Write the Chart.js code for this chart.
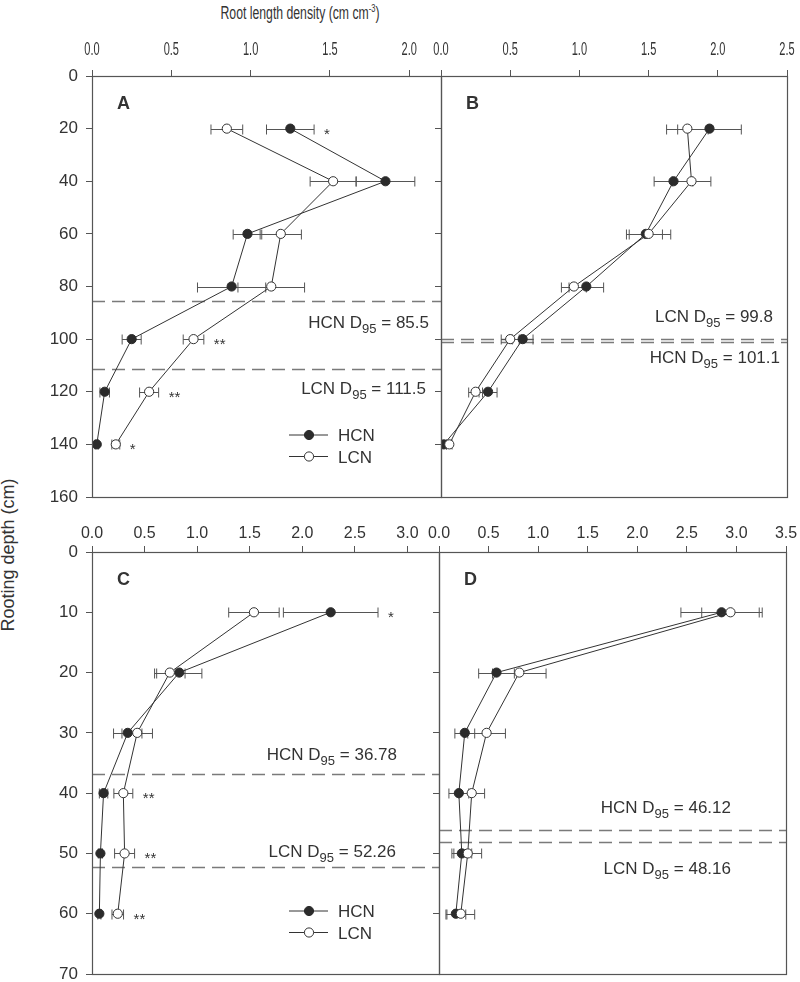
<!DOCTYPE html>
<html>
<head>
<meta charset="utf-8">
<script src="https://cdn.jsdelivr.net/npm/chart.js@4.4.1/dist/chart.umd.min.js"></script>
<style>
    body { margin: 0; background: #fff; }
    #page { position: relative; width: 800px; height: 982px; overflow: hidden; font-family: 'Liberation Sans', Arial, sans-serif; color: #333; }
    #page canvas { position: absolute; }
    #title { position: absolute; left: 0; top: 4px; width: 600px; text-align: center; font-size: 18px; line-height: 18px; transform: scaleX(0.68); transform-origin: 300px 0; white-space: nowrap; }
    #title sup { font-size: 11px; vertical-align: 7px; line-height: 0; }
    #ylab { position: absolute; left: -92px; top: 545px; width: 200px; height: 20px; line-height: 20px; text-align: center; font-size: 18px; transform: rotate(-90deg); white-space: nowrap; }
</style>
</head>
<body>
<div id="page">
    <div id="title">Root length density (cm cm<sup>-3</sup>)</div>
    <div id="ylab">Rooting depth (cm)</div>
    <canvas id="panelA" width="425" height="481" style="left:22px; top:30px"></canvas>
    <canvas id="panelB" width="380" height="481" style="left:421px; top:30px"></canvas>
    <canvas id="panelC" width="423" height="476" style="left:22px; top:506px"></canvas>
    <canvas id="panelD" width="381" height="476" style="left:419px; top:506px"></canvas>
</div>
<script>
// ---- data ----
const depthTop = [20, 40, 60, 80, 100, 120, 140];
const depthBottom = [10, 20, 30, 40, 50, 60];

const hcnA = [1.25, 1.85, 0.98, 0.88, 0.25, 0.08, 0.03];
const hcnA_se = [0.15, 0.185, 0.09, 0.215, 0.06, 0.03, 0.01];
const lcnA = [0.85, 1.52, 1.19, 1.13, 0.64, 0.36, 0.15];
const lcnA_se = [0.10, 0.145, 0.13, 0.21, 0.065, 0.06, 0.025];
const sigA = ['*', '', '', '', '**', '**', '*'];

const hcnB = [1.94, 1.68, 1.48, 1.05, 0.59, 0.34, 0.02];
const hcnB_se = [0.23, 0.14, 0.12, 0.125, 0.075, 0.065, 0.02];
const lcnB = [1.78, 1.81, 1.50, 0.96, 0.50, 0.25, 0.06];
const lcnB_se = [0.15, 0.14, 0.16, 0.09, 0.065, 0.05, 0.02];
const sigB = ['', '', '', '', '', '', ''];

const hcnC = [2.27, 0.83, 0.34, 0.11, 0.08, 0.07];
const hcnC_se = [0.45, 0.215, 0.135, 0.04, 0.02, 0.015];
const lcnC = [1.54, 0.74, 0.43, 0.298, 0.31, 0.245];
const lcnC_se = [0.24, 0.145, 0.145, 0.09, 0.095, 0.055];
const sigC = ['*', '', '', '**', '**', '**'];

const hcnD = [2.85, 0.58, 0.26, 0.20, 0.23, 0.17];
const hcnD_se = [0.41, 0.18, 0.10, 0.10, 0.10, 0.10];
const lcnD = [2.94, 0.81, 0.48, 0.33, 0.29, 0.22];
const lcnD_se = [0.29, 0.27, 0.19, 0.13, 0.14, 0.14];
const sigD = ['', '', '', '', '', ''];

// D95 rooting depths
const d95Names = ['HCN', 'LCN'];
const d95A = [85.5, 111.5];
const d95B = [101.1, 99.8];
const d95C = [36.78, 52.26];
const d95D = [46.12, 48.16];

const FONT = "'Liberation Sans', Arial, sans-serif";
const INK = '#333';

// linear scale whose tick labels can be drawn horizontally squeezed (top row of the figure is condensed)
class SquishedLinear extends Chart.LinearScale {
    drawLabels() {
        const o = this.options.ticks;
        if (!o.display) return;
        const ctx = this.ctx;
        const y = this.bottom - this.options.grid.tickLength - o.padding;
        ctx.save();
        ctx.font = o.font.size + 'px ' + FONT;
        ctx.fillStyle = INK;
        ctx.textAlign = 'center';
        ctx.textBaseline = 'alphabetic';
        this.ticks.forEach((t, i) => {
            ctx.save();
            ctx.translate(this.getPixelForTick(i), y);
            ctx.scale(this.options.squeeze || 1, 1);
            ctx.fillText(t.label, 0, 0);
            ctx.restore();
        });
        ctx.restore();
    }
}
SquishedLinear.id = 'squishedLinear';
SquishedLinear.defaults = Chart.LinearScale.defaults;
Chart.register(SquishedLinear);

function drawD95(ctx, right, cy, name, val) {
    const main = '17px ' + FONT, sub = '13px ' + FONT;
    ctx.font = main;
    const w1 = ctx.measureText(name + ' D').width;
    const w3 = ctx.measureText(' = ' + val).width;
    ctx.font = sub;
    const w2 = ctx.measureText('95').width;
    const x0 = right - (w1 + w2 + w3);
    const base = cy + 6;
    ctx.fillStyle = INK;
    ctx.textAlign = 'left';
    ctx.textBaseline = 'alphabetic';
    ctx.font = main; ctx.fillText(name + ' D', x0, base);
    ctx.font = sub; ctx.fillText('95', x0 + w1, base + 5);
    ctx.font = main; ctx.fillText(' = ' + val, x0 + w1 + w2, base);
}

function makeDecor(p) {
    return {
        id: 'decor',
        beforeDatasetsDraw(chart) {
            const { ctx, chartArea: a, scales: { x, y } } = chart;
            ctx.save();
            ctx.beginPath();
            ctx.rect(a.left, a.top, a.right - a.left, a.bottom - a.top);
            ctx.clip();
            ctx.strokeStyle = '#7a7a7a';
            ctx.lineWidth = 1.3;
            ctx.setLineDash([13, 7]);
            p.d95.forEach(v => {
                const py = Math.round(y.getPixelForValue(v)) + 0.5;
                ctx.beginPath();
                ctx.moveTo(a.left, py);
                ctx.lineTo(a.right, py);
                ctx.stroke();
            });
            ctx.setLineDash([]);
            // horizontal error bars
            ctx.strokeStyle = '#555';
            ctx.lineWidth = 1;
            chart.data.datasets.forEach(ds => ds.data.forEach((pt, i) => {
                const e = ds.errorBars[i];
                const x1 = x.getPixelForValue(pt.x - e), x2 = x.getPixelForValue(pt.x + e);
                const py = Math.round(y.getPixelForValue(pt.y)) + 0.5;
                ctx.beginPath();
                ctx.moveTo(x1, py); ctx.lineTo(x2, py);
                ctx.moveTo(x1, py - 5); ctx.lineTo(x1, py + 5);
                ctx.moveTo(x2, py - 5); ctx.lineTo(x2, py + 5);
                ctx.stroke();
            }));
            ctx.restore();
        },
        afterDraw(chart) {
            const { ctx, chartArea: a, scales: { x, y } } = chart;
            ctx.save();
            // frame
            ctx.strokeStyle = '#555';
            ctx.lineWidth = 1.2;
            ctx.strokeRect(Math.round(a.left) + 0.5, Math.round(a.top) + 0.5, Math.round(a.right - a.left), Math.round(a.bottom - a.top));
            // panel letter
            ctx.fillStyle = INK;
            ctx.font = 'bold 18px ' + FONT;
            ctx.textAlign = 'left';
            ctx.textBaseline = 'alphabetic';
            ctx.fillText(p.letter, a.left + 25, a.top + 33);
            // D95 labels
            p.d95.forEach((v, k) => {
                drawD95(ctx, a.right - p.labelRight[k], y.getPixelForValue(v) + p.labelDy[k], d95Names[k], String(v));
            });
            // significance marks
            ctx.font = '15px ' + FONT;
            ctx.fillStyle = INK;
            p.sig.forEach((s, i) => {
                if (!s) return;
                let xe = 0;
                chart.data.datasets.forEach(ds => { xe = Math.max(xe, ds.data[i].x + ds.errorBars[i]); });
                ctx.fillText(s, x.getPixelForValue(xe) + 10, y.getPixelForValue(chart.data.datasets[0].data[i].y) + 10);
            });
            // legend
            if (p.legend) {
                const lx = a.left + 197, ly = a.top + 359;
                chart.data.datasets.forEach((ds, k) => {
                    const yy = ly + k * 21.5;
                    ctx.strokeStyle = ds.borderColor;
                    ctx.lineWidth = 1;
                    ctx.beginPath();
                    ctx.moveTo(lx, yy); ctx.lineTo(lx + 39, yy);
                    ctx.stroke();
                    ctx.beginPath();
                    ctx.arc(lx + 20, yy, ds.pointRadius, 0, Math.PI * 2);
                    ctx.fillStyle = ds.pointBackgroundColor;
                    ctx.fill();
                    ctx.strokeStyle = ds.pointBorderColor;
                    ctx.stroke();
                    ctx.fillStyle = INK;
                    ctx.font = '17px ' + FONT;
                    ctx.fillText(ds.label, lx + 49, yy + 6);
                });
            }
            ctx.restore();
        }
    };
}

function series(label, depths, values, errs, filled) {
    return {
        label: label,
        data: depths.map((d, i) => ({ x: values[i], y: d })),
        errorBars: errs,
        showLine: true,
        borderColor: '#333',
        borderWidth: 1,
        pointRadius: 4.6,
        pointBorderWidth: 1,
        pointBackgroundColor: filled ? '#2b2b2b' : '#ffffff',
        pointBorderColor: filled ? '#2b2b2b' : '#333',
        order: filled ? 1 : 0
    };
}

function makePanel(id, p) {
    const tickGrid = { display: true, drawOnChartArea: false, drawTicks: true, tickLength: 6, color: '#555', lineWidth: 1 };
    return new Chart(document.getElementById(id), {
        type: 'scatter',
        data: {
            datasets: [
                series('HCN', p.depths, p.hcn, p.hcnSe, true),
                series('LCN', p.depths, p.lcn, p.lcnSe, false)
            ]
        },
        options: {
            responsive: false,
            animation: false,
            events: [],
            layout: { padding: { left: 0, top: 0, right: p.padR, bottom: p.padB } },
            plugins: { legend: { display: false }, tooltip: { enabled: false } },
            scales: {
                x: {
                    type: 'squishedLinear',
                    position: 'top',
                    min: 0,
                    max: p.xMax,
                    squeeze: p.squeeze,
                    ticks: { stepSize: 0.5, includeBounds: false, padding: p.xPad, font: { size: p.xFont }, callback: v => v.toFixed(1) },
                    grid: tickGrid,
                    border: { display: false },
                    afterFit: s => { s.height = 46; s.paddingLeft = 0; s.paddingRight = 0; s.paddingTop = 0; s.paddingBottom = 0; }
                },
                y: {
                    type: 'linear',
                    reverse: true,
                    min: 0,
                    max: p.yMax,
                    ticks: { stepSize: p.yStep, display: p.yLabels, padding: 8, color: INK, font: { family: FONT, size: 17 } },
                    grid: tickGrid,
                    border: { display: false },
                    afterFit: s => { s.width = p.yLabels ? 70 : 20; s.paddingLeft = 0; s.paddingRight = 0; s.paddingTop = 0; s.paddingBottom = 0; }
                }
            }
        },
        plugins: [makeDecor(p)]
    });
}

makePanel('panelA', {
    letter: 'A', depths: depthTop, hcn: hcnA, hcnSe: hcnA_se, lcn: lcnA, lcnSe: lcnA_se, sig: sigA,
    d95: d95A, labelRight: [12, 15], labelDy: [21, 19], legend: true,
    xMax: 2.2, yMax: 160, yStep: 20, yLabels: true, squeeze: 0.58, xFont: 19, xPad: 15, padR: 6, padB: 14
});
makePanel('panelB', {
    letter: 'B', depths: depthTop, hcn: hcnB, hcnSe: hcnB_se, lcn: lcnB, lcnSe: lcnB_se, sig: sigB,
    d95: d95B, labelRight: [7, 14], labelDy: [15, -23], legend: false,
    xMax: 2.5, yMax: 160, yStep: 20, yLabels: false, squeeze: 0.58, xFont: 19, xPad: 15, padR: 14, padB: 14
});
makePanel('panelC', {
    letter: 'C', depths: depthBottom, hcn: hcnC, hcnSe: hcnC_se, lcn: lcnC, lcnSe: lcnC_se, sig: sigC,
    d95: d95C, labelRight: [42, 43], labelDy: [-20, -16], legend: true,
    xMax: 3.3, yMax: 70, yStep: 10, yLabels: true, squeeze: 0.94, xFont: 17, xPad: 8, padR: 6, padB: 8
});
makePanel('panelD', {
    letter: 'D', depths: depthBottom, hcn: hcnD, hcnSe: hcnD_se, lcn: lcnD, lcnSe: lcnD_se, sig: sigD,
    d95: d95D, labelRight: [55, 55], labelDy: [-23, 26], legend: false,
    xMax: 3.5, yMax: 70, yStep: 10, yLabels: false, squeeze: 0.94, xFont: 17, xPad: 8, padR: 14, padB: 8
});
</script>
</body>
</html>
